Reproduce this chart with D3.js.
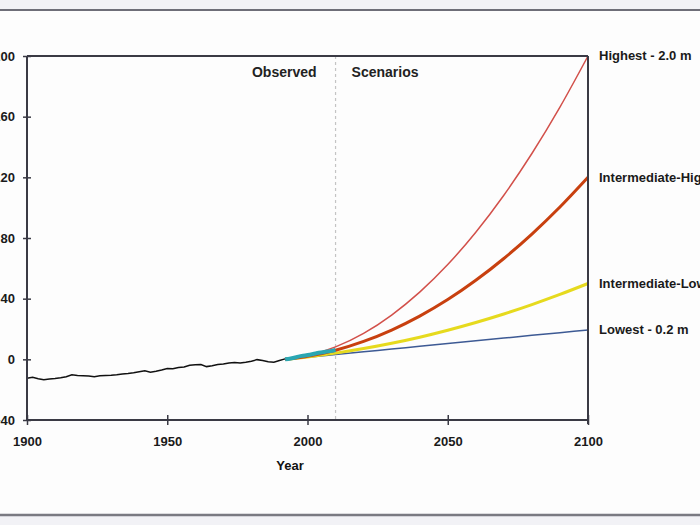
<!DOCTYPE html>
<html>
<head>
<meta charset="utf-8">
<script src="https://cdn.jsdelivr.net/npm/d3@7"></script>
<style>
  html, body { margin: 0; padding: 0; background: #fdfdfd; }
  svg { display: block; }
  text { font-family: "Liberation Sans", Arial, sans-serif; }
</style>
</head>
<body>
<svg id="chart" width="700" height="525"></svg>
<script>
// ---------- data ----------
const observedYears = [1900,1902,1904,1906,1908,1910,1912,1914,1916,1918,1920,1922,1924,1926,1928,1930,1932,1934,1936,1938,1940,1942,1944,1946,1948,1950,1952,1954,1956,1958,1960,1962,1964,1966,1968,1970,1972,1974,1976,1978,1980,1982,1984,1986,1988,1990,1992];
const observedValues = [-12.5,-11.8,-12.8,-13.4,-12.9,-12.6,-12.2,-11.5,-10.2,-10.6,-10.8,-11.0,-11.4,-10.9,-10.6,-10.5,-10.1,-9.6,-9.3,-8.8,-8.2,-7.6,-8.5,-7.9,-7.0,-6.0,-6.2,-5.4,-5.0,-3.9,-3.6,-3.4,-4.8,-4.2,-3.4,-3.0,-2.4,-2.1,-2.4,-1.9,-1.2,-0.2,-0.8,-1.6,-1.9,-0.8,0.3];

const satelliteYears = [1992,1994,1996,1998,2000,2002,2004,2006,2008,2010];
const satelliteValues = [0.0,0.6,1.4,2.3,2.8,3.5,4.3,4.9,5.4,6.2];

const scenarioYears = [1992,2000,2010,2020,2030,2040,2050,2060,2070,2080,2090,2100];
const highestValues = [0,2.4,8.2,17.1,29.2,44.3,62.5,83.8,108.2,135.7,166.3,200];
const intHighValues = [0,2.0,6.0,11.8,19.3,28.5,39.4,52.1,66.5,82.6,100.4,120];
const intLowValues  = [0,1.6,4.1,7.1,10.6,14.6,19.2,24.3,29.9,36.1,42.8,50];
const lowestValues  = [0,1.4,3.2,5.0,6.8,8.6,10.4,12.2,14.0,15.8,17.6,19.4];

const scenarioNames = ["Highest - 2.0 m","Intermediate-High - 1.2 m","Intermediate-Low - 0.5 m","Lowest - 0.2 m"];
const xTicks = [1900,1950,2000,2050,2100];
const yTicks = [-40,0,40,80,120,160,200];
const periodLabels = ["Observed","Scenarios"];
const xTitle = "Year";

// ---------- layout ----------
const svg = d3.select("#chart");
const pLeft = 27, pRight = 588, pTop = 56, pBottom = 420;
const x = d3.scaleLinear().domain([1900,2100]).range([pLeft,pRight]);
const y = d3.scaleLinear().domain([-40,200]).range([pBottom,pTop]);

// frame bands
svg.append("rect").attr("x",0).attr("y",0).attr("width",700).attr("height",9).attr("fill","#f2f2f6");
svg.append("line").attr("x1",0).attr("x2",700).attr("y1",10).attr("y2",10).attr("stroke","#6e6e78").attr("stroke-width",2);
svg.append("rect").attr("x",0).attr("y",516).attr("width",700).attr("height",9).attr("fill","#f2f2f6");
svg.append("line").attr("x1",0).attr("x2",700).attr("y1",515).attr("y2",515).attr("stroke","#7a7a82").attr("stroke-width",2.5);

// divider (2010)
svg.append("line")
  .attr("x1",x(2010)).attr("x2",x(2010)).attr("y1",pTop).attr("y2",pBottom)
  .attr("stroke","#c4c4c4").attr("stroke-width",1.2).attr("stroke-dasharray","3,3");

// period labels
svg.append("text").attr("x",x(2010)-19).attr("y",77).attr("text-anchor","end")
  .attr("font-size",14).attr("font-weight","bold").attr("fill","#222").text(periodLabels[0]);
svg.append("text").attr("x",x(2010)+16).attr("y",77).attr("text-anchor","start")
  .attr("font-size",14).attr("font-weight","bold").attr("fill","#222").text(periodLabels[1]);

// scenario lines
const scenarios = [
  {name: scenarioNames[0], values: highestValues, color: "#d2504a", width: 1.5},
  {name: scenarioNames[1], values: intHighValues, color: "#c8400f", width: 3},
  {name: scenarioNames[2], values: intLowValues,  color: "#e6da1e", width: 3},
  {name: scenarioNames[3], values: lowestValues,  color: "#3d5a94", width: 1.5}
];
const line = d3.line().x(d => x(d[0])).y(d => y(d[1])).curve(d3.curveMonotoneX);

scenarios.slice().reverse().forEach(s => {
  svg.append("path")
    .datum(scenarioYears.map((yr,i) => [yr, s.values[i]]))
    .attr("d", line).attr("fill","none")
    .attr("stroke", s.color).attr("stroke-width", s.width);
});

// satellite (teal)
svg.append("path")
  .datum(satelliteYears.map((yr,i) => [yr, satelliteValues[i]]))
  .attr("d", line).attr("fill","none")
  .attr("stroke","#2aa6b2").attr("stroke-width",4);

// observed (black)
svg.append("path")
  .datum(observedYears.map((yr,i) => [yr, observedValues[i]]))
  .attr("d", d3.line().x(d => x(d[0])).y(d => y(d[1])).curve(d3.curveLinear))
  .attr("fill","none").attr("stroke","#111").attr("stroke-width",1.5);

// scenario labels
scenarios.forEach(s => {
  svg.append("text")
    .attr("x", 599).attr("y", y(s.values[s.values.length-1]) + 1)
    .attr("dominant-baseline","middle")
    .attr("font-size",13).attr("font-weight","bold").attr("fill","#1a1a1a")
    .text(s.name);
});

// box (top and right)
svg.append("line").attr("x1",pLeft).attr("x2",pRight).attr("y1",pTop).attr("y2",pTop).attr("stroke","#3a3a44").attr("stroke-width",2);
svg.append("line").attr("x1",pRight).attr("x2",pRight).attr("y1",pTop).attr("y2",pBottom+4).attr("stroke","#3a3a44").attr("stroke-width",2);

// axes
const yAxis = svg.append("g").attr("transform",`translate(${pLeft},0)`)
  .call(d3.axisLeft(y).tickValues(yTicks).tickSize(4).tickPadding(8));
yAxis.selectAll(".tick line").attr("x1",-4).attr("x2",4);
const xAxis = svg.append("g").attr("transform",`translate(0,${pBottom})`)
  .call(d3.axisBottom(x).tickValues(xTicks).tickFormat(d3.format("d")).tickSize(5).tickPadding(12));
xAxis.selectAll(".tick line").attr("y1",-5).attr("y2",5);

[yAxis, xAxis].forEach(g => {
  g.select(".domain").attr("stroke","#3a3a44").attr("stroke-width",2);
  g.selectAll(".tick line").attr("stroke","#3a3a44").attr("stroke-width",1.5);
  g.selectAll(".tick text").attr("font-size",13).attr("font-weight","bold")
    .attr("fill","#1a1a1a").attr("font-family",'"Liberation Sans", Arial, sans-serif');
});
yAxis.select(".domain").attr("d", `M0,${pTop}V${pBottom}`);
xAxis.select(".domain").attr("d", `M${pLeft},0H${pRight}`);

// x title
svg.append("text").attr("x", 290).attr("y", 470).attr("text-anchor","middle")
  .attr("font-size",13).attr("font-weight","bold").attr("fill","#111").text(xTitle);
</script>
</body>
</html>
